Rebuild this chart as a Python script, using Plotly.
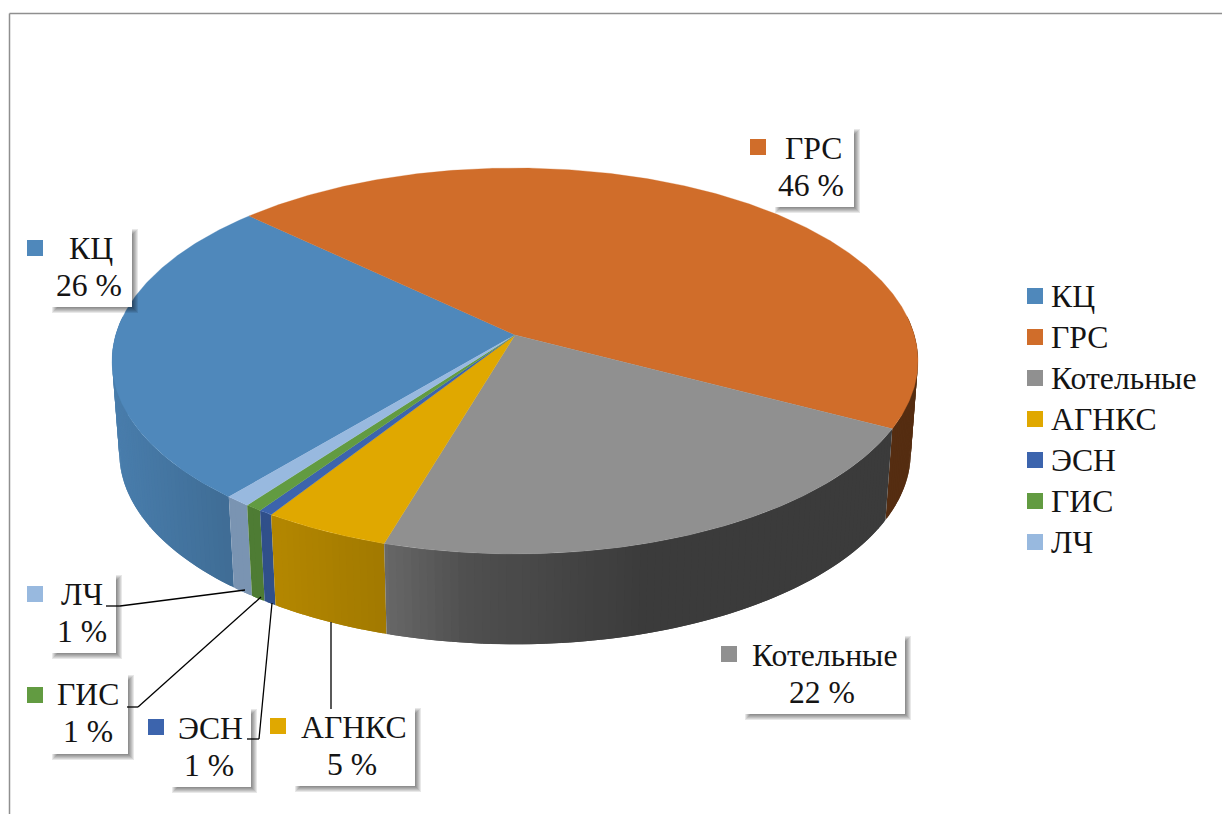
import math
import numpy as np
import plotly.graph_objects as go

# ---------- data ----------
categories = ["КЦ", "ГРС", "Котельные", "АГНКС", "ЭСН", "ГИС", "ЛЧ"]
shares = [25.9, 45.6, 21.9, 4.5, 0.5, 0.6, 0.9]
percent_labels = ["26 %", "46 %", "22 %", "5 %", "1 %", "1 %", "1 %"]
colors = ["#4F88BB", "#D06D2A", "#909090", "#E0A800", "#3C64AD", "#629B41", "#98B9DF"]

# ---------- layout constants (pixel space) ----------
W, H = 1222, 814
START = 130.0
CX, CY = 515.0, 335.0
A, B, K = 399.3, 189.5, 0.1347
A_LOW, B_LOW, CY_LOW = 392.1, 188.0, 427.0
FONT = "Liberation Serif"
INK = "#141414"

# box: x0, y0, x1, y1; swatch centre; text centres: line 1 x, line 2 x
boxes = [(50, 227, 132, 307), (773, 127, 854, 207), (743, 634, 905, 714), (293, 706, 415, 786),
         (170, 707, 251, 787), (50, 673, 128, 754), (50, 573, 116, 653)]
swatches = [(35, 248), (758, 147), (729, 654), (278, 726), (156, 727), (35, 695), (35, 594)]
text_x = [(91, 89), (813, 811), (824, 822), (354, 352), (210, 209), (88, 88), (82, 82)]
leaders = [[(331, 622), (331, 709)],
           [(272, 603), (259, 739), (247, 739)],
           [(261, 597), (138, 707), (127, 707)],
           [(245, 590), (120, 606), (106, 606)]]
legend_swatch_x, legend_text_x, legend_top, legend_step = 1035, 1051, 296, 41

shade_x = [112, 230, 280, 388, 470, 640, 920]
shade_f = [0.92, 0.80, 0.80, 0.72, 0.55, 0.41, 0.41]


def world(deg):
    t = np.radians(deg)
    return np.cos(t), np.sin(t)


def top_pt(deg):
    X, Y = world(deg)
    d = 1 - K * Y
    return CX + A * X / d, CY + B * Y / d


def low_pt(deg):
    X, Y = world(deg)
    d = 1 - K * Y
    return CX + A_LOW * X / d, CY_LOW + B_LOW * Y / d


def shaded(hex_color, f):
    r, g, b = (int(hex_color[i:i + 2], 16) for i in (1, 3, 5))
    return f"rgb({r * f:.0f},{g * f:.0f},{b * f:.0f})"


# slice angle ranges, clockwise on screen
total = sum(shares)
ranges = []
a = START
for v in shares:
    ranges.append((a, a + v / total * 360))
    a += v / total * 360

fig = go.Figure()

# side wall, split in narrow strips for the shading
strips = []
for i, (a0, a1) in enumerate(ranges):
    for off in (0, 360):
        lo = max(a0, -6 + off)
        hi = min(a1, 186 + off)
        if hi <= lo:
            continue
        n = max(1, int(math.ceil((hi - lo) / 1.0)))
        edges = np.linspace(lo, hi, n + 1)
        for s0, s1 in zip(edges[:-1], edges[1:]):
            strips.append((world((s0 + s1) / 2)[1], i, s0, s1, lo, hi))
strips.sort(key=lambda q: q[0])

for _, i, s0, s1, lo, hi in strips:
    e0, e1 = max(lo, s0 - 0.5), min(hi, s1 + 0.5)
    tx0, ty0 = top_pt(e0)
    tx1, ty1 = top_pt(e1)
    lx0, ly0 = low_pt(e0)
    lx1, ly1 = low_pt(e1)
    f = float(np.interp((top_pt(s0)[0] + top_pt(s1)[0]) / 2, shade_x, shade_f))
    fig.add_trace(go.Scatter(
        x=[tx0, tx1, lx1, lx0, tx0], y=[ty0, ty1, ly1, ly0, ty0],
        mode="none", fill="toself", fillcolor=shaded(colors[i], f),
        showlegend=False, hoverinfo="skip"))

# top face
for i, (a0, a1) in enumerate(ranges):
    ang = np.linspace(a0, a1, max(3, int((a1 - a0) * 2) + 2))
    px, py = top_pt(ang)
    fig.add_trace(go.Scatter(
        x=[CX, *px, CX], y=[CY, *py, CY], mode="lines", fill="toself",
        fillcolor=colors[i], line=dict(color=colors[i], width=0.3),
        showlegend=False, name=categories[i], text=percent_labels[i], hoverinfo="name+text"))

# label swatches and legend swatches
for i, name in enumerate(categories):
    fig.add_trace(go.Scatter(
        x=[swatches[i][0], legend_swatch_x], y=[swatches[i][1], legend_top + i * legend_step],
        mode="markers", name=name, showlegend=False,
        marker=dict(symbol="square", size=16, color=colors[i], line=dict(width=0)),
        hoverinfo="name"))

shapes = [
    dict(type="line", x0=9.5, x1=9.5, y0=13.5, y1=H, line=dict(color="#8f8f8f", width=1.5)),
    dict(type="line", x0=9.5, x1=W, y0=13.5, y1=13.5, line=dict(color="#8f8f8f", width=1.5)),
]
annotations = []
for i, (x0, y0, x1, y1) in enumerate(boxes):
    for e in (3, 2, 1, 0, -1, -2):
        shapes.append(dict(type="rect", x0=x0 + 5 - e, x1=x1 + 3 + e, y0=y0 + 5 - e, y1=y1 + 3 + e,
                           fillcolor="rgba(0,0,0,0.09)", line=dict(width=0), layer="above"))
    shapes.append(dict(type="rect", x0=x0, x1=x1, y0=y0, y1=y1,
                       fillcolor="white", line=dict(width=0), layer="above"))
    for line_x, txt, dy in ((text_x[i][0], categories[i], 21), (text_x[i][1], percent_labels[i], 58)):
        annotations.append(dict(x=line_x, y=y0 + dy, text=txt, showarrow=False, xanchor="center",
                                yanchor="middle", font=dict(family=FONT, size=31.7, color=INK)))
    annotations.append(dict(x=legend_text_x, y=legend_top + i * legend_step, text=categories[i],
                            showarrow=False, xanchor="left", yanchor="middle", xshift=-2,
                            font=dict(family=FONT, size=31.7, color=INK)))
for pts in leaders:
    for (xa, ya), (xb, yb) in zip(pts[:-1], pts[1:]):
        shapes.append(dict(type="line", x0=xa, y0=ya, x1=xb, y1=yb,
                           line=dict(color="#000000", width=1.3), layer="above"))

fig.update_layout(
    width=W, height=H, margin=dict(l=0, r=0, t=0, b=0),
    paper_bgcolor="white", plot_bgcolor="white",
    xaxis=dict(range=[0, W], visible=False, fixedrange=True),
    yaxis=dict(range=[H, 0], visible=False, fixedrange=True),
    shapes=shapes, annotations=annotations, showlegend=False,
)

fig.write_html("out.html", config={"displayModeBar": False},
               post_script="document.body.style.margin='0';document.body.style.overflow='hidden';")
